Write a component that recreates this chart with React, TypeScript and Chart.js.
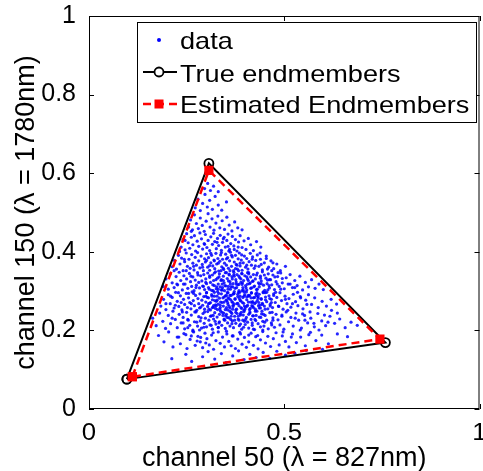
import React, { useEffect, useRef } from 'react';
import { Chart, registerables } from 'chart.js';

Chart.register(...registerables);

const X_TICKS = [0, 0.5, 1];
const Y_TICKS = [0, 0.2, 0.4, 0.6, 0.8, 1];
const X_TITLE = 'channel 50 (\u03bb = 827nm)';
const Y_TITLE = 'channel 150 (\u03bb = 1780nm)';
const LEGEND_LABELS = ['data', 'True endmembers', 'Estimated Endmembers'];

const TRUE_X = [0.097, 0.307, 0.759];
const TRUE_Y = [0.076, 0.625, 0.169];
const EST_X = [0.111, 0.307, 0.745];
const EST_Y = [0.082, 0.607, 0.178];

// data cloud, [x, y] in thousandths
const DATA_PTS: number[][] = [
  [212,128],[248,139],[263,121],[291,133],[305,146],[322,127],[339,141],[351,118],[368,135],[383,148],[397,126],[412,139],[428,131],[446,144],[463,129],[481,147],[503,137],[527,142],[556,149],[598,152],
  [178,187],[192,171],[204,196],[215,158],[226,183],[234,166],[243,192],[251,154],[259,177],[266,198],[272,162],[279,185],[285,171],[291,156],[297,193],[302,179],[308,163],[314,188],[319,152],[325,174],[331,196],[336,167],[342,183],[347,158],[353,191],[358,172],[364,161],[369,186],[375,154],[381,178],[386,195],[392,165],[398,182],[403,157],[409,171],[415,193],[421,162],[427,184],[433,153],[439,176],[445,197],[452,168],[458,185],[465,159],[472,179],[479,194],[487,163],[495,186],[503,172],[512,158],[521,191],[531,169],[542,183],[554,161],[567,195],[581,174],[596,188],[613,166],[636,191],[662,184],
  [163,231],[172,212],[181,244],[189,223],[196,205],[203,238],[209,217],[215,249],[221,228],[226,207],[231,241],[236,219],[241,233],[245,204],[250,246],[254,226],[258,213],[262,239],[266,201],[270,222],[274,247],[278,211],[281,235],[285,224],[288,206],[292,243],[295,218],[298,231],[301,209],[304,248],[307,226],[310,214],[313,237],[316,203],[319,229],[322,245],[325,216],[328,234],[331,208],[334,222],[337,249],[340,213],[343,238],[346,227],[349,205],[352,241],[355,219],[358,232],[361,211],[364,246],[367,224],[370,207],[373,236],[376,218],[379,243],[382,229],[385,212],[388,239],[391,203],[394,226],[397,248],[400,215],[403,233],[406,221],[409,206],[412,244],[415,228],[418,213],[421,237],[424,202],[427,225],[430,249],[433,217],[436,234],[439,209],[442,242],[445,223],[448,211],[451,238],[455,226],[459,204],[463,245],[467,219],[471,232],[475,208],[479,241],[484,227],[489,214],[494,236],[499,203],[505,247],[511,222],[517,233],[523,211],[530,244],[537,226],[544,206],[552,238],[560,219],[568,231],[577,209],[586,243],[596,224],[606,212],[617,236],[629,218],[642,229],[656,207],[671,221],[687,213],
  [184,262],[191,279],[197,253],[203,291],[208,268],[213,284],[218,257],[222,297],[226,274],[230,261],[234,288],[238,252],[242,279],[245,266],[249,294],[252,258],[255,283],[258,271],[261,255],[264,298],[267,276],[270,263],[273,289],[276,251],[279,281],[281,268],[284,293],[286,259],[289,277],[291,264],[294,286],[296,254],[299,272],[301,296],[304,261],[306,283],[309,269],[311,252],[314,291],[316,278],[319,263],[321,287],[324,256],[326,274],[329,299],[331,267],[334,282],[336,258],[339,293],[341,271],[344,262],[346,285],[349,253],[351,277],[354,296],[356,266],[359,281],[361,257],[364,289],[366,273],[369,261],[371,294],[374,279],[376,252],[379,268],[381,286],[384,263],[386,297],[389,275],[391,256],[394,284],[396,269],[399,291],[401,259],[404,278],[406,264],[409,287],[411,253],[414,272],[416,295],[419,261],[421,283],[424,268],[426,254],[429,289],[431,276],[434,263],[436,292],[439,257],[441,281],[444,269],[446,298],[449,262],[452,285],[455,273],[458,255],[461,288],[464,266],[467,279],[470,258],[473,293],[477,271],[481,284],[485,262],[489,296],[493,276],[497,254],[502,287],[507,268],[512,281],[517,259],[523,292],[529,273],[535,263],[541,286],[548,255],[555,277],[562,291],[570,266],[578,283],[587,258],[597,274],[608,262],[620,279],[634,267],
  [190,312],[197,331],[203,305],[208,344],[213,321],[218,309],[223,337],[227,316],[231,348],[235,327],[239,303],[243,339],[246,318],[250,331],[253,307],[257,345],[260,324],[263,312],[266,336],[269,301],[272,328],[275,315],[278,347],[281,322],[283,308],[286,339],[289,326],[291,313],[294,342],[296,304],[299,331],[301,319],[304,346],[306,309],[309,335],[311,322],[314,302],[316,341],[319,327],[321,314],[324,349],[326,306],[329,333],[331,318],[334,344],[336,311],[339,329],[341,303],[344,338],[346,321],[349,347],[351,313],[354,332],[356,305],[359,343],[361,324],[364,311],[366,337],[369,319],[371,348],[374,307],[376,329],[379,342],[381,316],[384,301],[386,334],[389,322],[391,345],[394,309],[396,327],[399,339],[401,314],[404,303],[406,331],[409,347],[411,319],[414,336],[416,308],[419,325],[421,342],[424,313],[426,331],[429,304],[431,346],[434,321],[436,311],[439,338],[441,326],[444,349],[447,315],[450,302],[453,333],[456,319],[459,344],[462,308],[465,329],[468,316],[471,341],[475,304],[479,324],[483,337],[487,312],[491,346],[495,321],[500,306],[505,334],[510,318],[515,342],[521,309],[527,327],[533,314],[540,338],[547,303],[554,322],[562,311],[570,329],[579,307],[589,318],[600,304],
  [213,362],[219,378],[224,356],[229,391],[233,369],[237,384],[241,352],[245,375],[249,397],[252,363],[256,381],[259,358],[263,393],[266,371],[269,354],[272,386],[275,366],[278,398],[281,377],[284,359],[287,389],[290,368],[293,352],[296,382],[298,374],[301,395],[304,361],[306,385],[309,353],[312,372],[314,391],[317,364],[320,379],[322,357],[325,396],[327,369],[330,383],[332,351],[335,376],[337,392],[340,362],[342,381],[345,355],[347,371],[350,394],[352,366],[355,385],[357,358],[360,377],[362,399],[365,363],[367,387],[370,352],[372,374],[375,391],[377,368],[380,356],[382,382],[385,397],[387,364],[390,379],[392,353],[395,372],[398,389],[401,361],[404,383],[407,356],[410,375],[413,396],[416,366],[419,387],[423,358],[427,378],[431,392],[435,363],[439,381],[444,354],[449,372],[454,389],[460,361],[466,377],[473,357],[481,369],[490,352],[503,363],
  [236,412],[241,431],[246,405],[250,446],[254,423],[258,409],[262,437],[266,418],[270,441],[273,402],[277,427],[281,414],[284,448],[288,433],[291,407],[295,421],[298,444],[302,411],[305,429],[309,403],[312,438],[316,419],[319,447],[322,426],[326,408],[329,434],[332,416],[336,442],[339,404],[342,424],[346,437],[349,412],[353,429],[356,445],[360,406],[363,421],[367,439],[371,415],[375,431],[379,402],[383,425],[387,441],[392,411],[397,428],[402,406],[408,434],[414,418],[421,403],[429,426],[440,412],
  [255,463],[260,481],[265,456],[270,494],[275,472],[280,459],[285,486],[290,467],[295,452],[300,478],[305,497],[310,463],[315,484],[320,455],[325,473],[330,491],[335,461],[341,479],[347,457],[353,488],[359,468],[366,453],[373,476],[381,461],[392,456],
  [272,512],[279,534],[285,505],[291,523],[297,546],[303,514],[309,531],[316,508],[323,541],[331,519],[340,506],[352,527],
  [296,561],[304,574],[311,556],[319,567],[331,553],
  [296,247],[303,284],[311,236],[318,301],[326,263],[333,219],[338,327],[345,244],[352,289],[357,312],[363,228],[368,271],[372,338],[378,254],[383,297],[388,216],[393,321],[398,262],[404,285],[409,241],[414,307],[419,273],[425,228],[430,296],[436,257],[441,319],[447,241],[452,278],[458,303],[464,262],
  [299,322],[306,268],[313,213],[321,346],[328,287],[335,254],[342,309],[348,226],[355,271],[361,352],[366,243],[371,294],[377,318],[382,236],[387,276],[392,344],[397,251],[403,298],[408,327],[413,256],[418,219],[424,284],[429,341],[435,271],[440,233],[446,296],[451,254],[457,328],[463,281],[469,246],
  [301,296],[309,339],[316,258],[323,223],[331,305],[337,272],[344,358],[350,237],[356,283],[362,318],[368,254],[373,226],[379,366],[385,281],[390,246],[395,303],[401,228],[406,347],[411,289],[417,263],[422,311],[428,238],[433,286],[439,333],[444,266],[450,221],[455,297],[461,314],[467,271],[473,289],
  [347,301],[322,276],[389,331],[361,289],[405,262],[334,241],[378,309],[416,296],[352,258],[299,287],[371,342],[427,271],[341,318],[384,226],[362,305],[318,259],[397,287],[436,318],[354,233],[327,311],[409,344],[369,264],[315,287],[443,249],[381,292],[338,352],[395,239],[357,326],[421,258],[308,305],[374,281],[346,272],[413,321],[389,258],[332,294],[366,217],[402,309],[352,347],[427,293],[318,238],[384,317],[359,261],[441,279],[325,329],[376,246],[408,272],[343,283],[392,301],[367,331],[419,237],[336,264],[383,352],[356,296],[431,305],[311,271],[398,223],[363,278],[348,314],[415,283],[387,242],[329,253],[372,299],[404,336],[346,229],[438,264],[359,341],[321,297],[393,271],[377,323],[426,249],[341,246],[368,311],[408,289],[333,336],[387,287],[451,296],[355,252],[317,316],[399,254],[372,267],[344,327],[420,326],[364,236],[392,317],[328,277],[412,247],[381,269],[349,288],[433,282],[307,254],[375,357],[397,298],[361,249],[339,303],[418,271],[384,338],[353,276],[324,265],[406,318],[369,292],
  [262,268],[274,309],[287,232],[279,341],[268,294],[291,361],[283,257],[276,221],[293,312],[271,247],[486,261],[478,297],[494,239],[482,318],[471,226],[503,279],[491,305],[509,251],[476,336],[468,214],[352,198],[388,191],[421,203],[331,207],[367,186],[409,188],[445,201],[318,194],[396,208],[432,187],[352,382],[387,371],[321,377],[404,366],[339,398],[372,406],[309,365],[418,381],[356,414],[331,371],
  [296,419],[312,396],[344,433],[365,391],[382,412],[301,378],[328,424],[358,402],[391,392],[426,364],[242,318],[255,294],[249,352],[236,271],[261,338],[253,228],[239,247],[268,363],[229,296],[244,381],[521,268],[534,297],[547,242],[528,231],[558,266],[515,318],[542,283],[566,247],[527,309],[553,226],[457,356],[471,372],[449,341],[462,329],[484,347],[441,368],[468,352],[495,332],[454,383],[438,397],
  [268,196],[286,182],[253,207],[299,168],[241,219],[277,173],[262,186],[294,208],[248,189],[283,201],[497,196],[518,183],[541,201],[576,218],[603,239],[589,201],[621,251],[563,189],[612,221],[636,244],[230,183],[213,231],[221,264],[209,287],[225,318],[197,268],[218,352],[232,401],[246,429],[262,452]
];

const FONT = "'Liberation Sans', Arial, Helvetica, sans-serif";

const closed = (xs: number[], ys: number[]) => {
  const pts = xs.map((x, i) => ({ x, y: ys[i] }));
  pts.push({ x: xs[0], y: ys[0] });
  return pts;
};

const fmt = (v: any) => String(Math.round(Number(v) * 10) / 10);

const stretchText = (ctx: any, text: string, x: number, y: number, sx: number) => {
  ctx.save();
  ctx.translate(x, y);
  ctx.scale(sx, 1);
  ctx.fillText(text, 0, 0);
  ctx.restore();
};

const boxPlugin = {
  id: 'matlabBox',
  afterDatasetsDraw(chart: any) {
    const { ctx, chartArea: a, scales } = chart;
    ctx.save();
    ctx.strokeStyle = '#000';
    ctx.lineWidth = 1;
    ctx.strokeRect(a.left + 0.5, a.top + 0.5, a.right - a.left - 1, a.bottom - a.top - 1);
    const tl = 5;
    ctx.beginPath();
    X_TICKS.forEach((v) => {
      const px = Math.round(scales.x.getPixelForValue(v)) + 0.5;
      ctx.moveTo(px, a.bottom); ctx.lineTo(px, a.bottom - tl);
      ctx.moveTo(px, a.top); ctx.lineTo(px, a.top + tl);
    });
    Y_TICKS.forEach((v) => {
      const py = Math.round(scales.y.getPixelForValue(v)) + 0.5;
      ctx.moveTo(a.left, py); ctx.lineTo(a.left + tl, py);
      ctx.moveTo(a.right, py); ctx.lineTo(a.right - tl, py);
    });
    ctx.stroke();
    ctx.fillStyle = '#000';
    ctx.font = `23px ${FONT}`;
    ctx.textAlign = 'center';
    ctx.textBaseline = 'alphabetic';
    X_TICKS.forEach((v) => {
      stretchText(ctx, fmt(v), scales.x.getPixelForValue(v), a.bottom + 31, 1.12);
    });
    ctx.restore();
  },
  afterDraw(chart: any) {
    const { ctx, chartArea: a } = chart;
    const bx = a.left + 48, by = a.top + 6, bw = 339, bh = 100;
    ctx.save();
    ctx.fillStyle = '#fff';
    ctx.fillRect(bx, by, bw, bh);
    ctx.strokeStyle = '#000';
    ctx.lineWidth = 1;
    ctx.strokeRect(bx + 0.5, by + 0.5, bw, bh);
    const sx0 = bx + 6, sx1 = bx + 40, sxm = bx + 22;
    const rows = [by + 18, by + 50, by + 82];
    const bases = [by + 27, by + 60, by + 91];
    ctx.fillStyle = '#0000ff';
    ctx.beginPath();
    ctx.arc(sxm, rows[0], 2, 0, Math.PI * 2);
    ctx.fill();
    ctx.strokeStyle = '#000';
    ctx.lineWidth = 2;
    ctx.beginPath();
    ctx.moveTo(sx0, rows[1]); ctx.lineTo(sx1, rows[1]);
    ctx.stroke();
    ctx.fillStyle = '#fff';
    ctx.lineWidth = 1.8;
    ctx.beginPath();
    ctx.arc(sxm, rows[1], 4.5, 0, Math.PI * 2);
    ctx.fill();
    ctx.stroke();
    ctx.strokeStyle = '#ff0000';
    ctx.lineWidth = 2.5;
    ctx.setLineDash([8, 5]);
    ctx.beginPath();
    ctx.moveTo(sx0, rows[2]); ctx.lineTo(sx1, rows[2]);
    ctx.stroke();
    ctx.setLineDash([]);
    ctx.fillStyle = '#ff0000';
    ctx.fillRect(sxm - 4.5, rows[2] - 4.5, 9, 9);
    ctx.fillStyle = '#000';
    ctx.font = `24px ${FONT}`;
    ctx.textBaseline = 'alphabetic';
    ctx.textAlign = 'left';
    LEGEND_LABELS.forEach((t, i) => stretchText(ctx, t, bx + 43, bases[i], 1.13));
    ctx.restore();
  },
};

export default function App() {
  const ref = useRef<HTMLCanvasElement | null>(null);
  useEffect(() => {
    document.body.style.margin = '0';
    const canvas = ref.current;
    if (!canvas) return;
    const chart = new Chart(canvas, {
      type: 'scatter',
      data: {
        datasets: [
          {
            label: LEGEND_LABELS[2],
            data: closed(EST_X, EST_Y),
            showLine: true,
            borderColor: '#ff0000',
            borderWidth: 2.5,
            borderDash: [8, 5],
            pointStyle: 'rect',
            pointRadius: 6.5,
            pointBackgroundColor: '#ff0000',
            pointBorderWidth: 0,
            pointBorderColor: '#ff0000',
          },
          {
            label: LEGEND_LABELS[1],
            data: closed(TRUE_X, TRUE_Y),
            showLine: true,
            borderColor: '#000',
            borderWidth: 2,
            pointStyle: 'circle',
            pointRadius: 4.5,
            pointBackgroundColor: 'rgba(0,0,0,0)',
            pointBorderColor: '#000',
            pointBorderWidth: 1.8,
          },
          {
            label: LEGEND_LABELS[0],
            data: DATA_PTS.map(([x, y]) => ({ x: x / 1000, y: y / 1000 })),
            showLine: false,
            pointStyle: 'circle',
            pointRadius: 1.6,
            pointBackgroundColor: 'rgba(0,0,255,0.85)',
            pointBorderWidth: 0,
            borderColor: 'rgba(0,0,255,0.85)',
          },
        ],
      },
      options: {
        responsive: false,
        animation: false,
        events: [],
        layout: { padding: { top: 16, right: 2, left: 0, bottom: 0 } },
        plugins: { legend: { display: false }, tooltip: { enabled: false } },
        scales: {
          x: {
            type: 'linear',
            min: 0,
            max: 1,
            afterBuildTicks: (s: any) => { s.ticks = X_TICKS.map((v) => ({ value: v })); },
            afterFit: (s: any) => { s.height = 62; s.paddingLeft = 0; s.paddingRight = 0; },
            grid: { display: false },
            border: { display: false },
            ticks: { display: false },
            title: { display: true, text: X_TITLE, color: '#000', font: { family: FONT, size: 27 }, padding: { top: 0, bottom: -4 } },
          },
          y: {
            type: 'linear',
            min: 0,
            max: 1,
            afterBuildTicks: (s: any) => { s.ticks = Y_TICKS.map((v) => ({ value: v })); },
            afterFit: (s: any) => { s.width = 89; s.paddingTop = 0; s.paddingBottom = 0; },
            grid: { display: false },
            border: { display: false },
            ticks: { color: '#000', font: { family: FONT, size: 25 }, padding: 5, autoSkip: false, callback: fmt },
            title: { display: true, text: Y_TITLE, color: '#000', font: { family: FONT, size: 27 }, padding: { top: 10, bottom: 0 } },
          },
        },
      },
      plugins: [boxPlugin],
    } as any);
    return () => chart.destroy();
  }, []);
  return (
    <div style={{ position: 'relative', width: 483, height: 471, overflow: 'hidden' }}>
      <canvas ref={ref} width={486} height={471} style={{ display: 'block' }} />
    </div>
  );
}
